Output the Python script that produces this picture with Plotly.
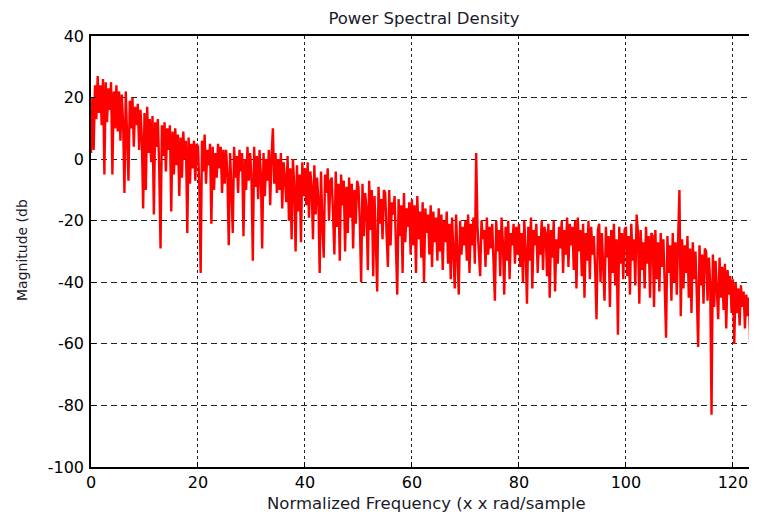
import numpy as np
import plotly.graph_objects as go

# PSD magnitude (dB), one value every 0.25 normalized-frequency units
seg_00 = [2, 20, 3, 24, 13, 27, 15, 24, 11, 26, -5, 25, 12, 23, 16, 25, -5, 22, 10, 24]
seg_05 = [9, 22, 6, 21, 12, -11, 22, 8, -7, 19, 10, 20, 4, 17, 11, 18, 3, 16, 7, -16]
seg_10 = [15, -10, 17, 2, 13, -1, 14, -18, 12, 4, 13, -3, -29, 11, 1, 12, -4, 10, 3, 11]
seg_15 = [-17, 9, -5, 10, -2, 8, -12, 7, -6, 9, 0, 6, -24, 7, -8, 5, -3, 6, -7, 5]
seg_20 = [4, -9, -37, 6, -4, 8, -8, 3, -2, 5, -21, 4, -10, 2, -6, 5, -3, 4, -11, 3]
seg_25 = [-8, 3, -5, -28, 2, -9, -24, 4, -6, 1, -11, 3, -4, 2, -25, 0, -10, 4, -7, 2]
seg_30 = [-6, -33, 4, -9, 1, -13, 3, -5, -29, 2, -12, 0, -7, 3, -15, 1, 10, -8, 2, -11]
seg_35 = [0, -10, 2, -16, -1, -6, -14, 1, -20, -3, -26, 0, -9, -30, -2, -17, -5, -27, -1, -12]
seg_40 = [-3, -15, -1, -19, -4, -9, -26, -2, -18, -6, -13, -37, -4, -21, -32, -5, -11, -3, -20, -7]
seg_45 = [-6, -18, -31, -4, -22, -8, -33, -5, -15, -7, -30, -9, -24, -6, -19, -8, -29, -10, -21, -7]
seg_50 = [-9, -20, -40, -8, -25, -11, -16, -36, -7, -23, -10, -38, -12, -27, -43, -9, -21, -13, -26, -10]
seg_55 = [-11, -24, -35, -10, -28, -14, -18, -12, -30, -44, -13, -25, -15, -37, -11, -27, -16, -22, -14, -31]
seg_60 = [-13, -28, -15, -37, -12, -26, -17, -32, -14, -40, -16, -24, -18, -31, -15, -35, -17, -27, -19, -33]
seg_65 = [-16, -30, -18, -36, -20, -27, -17, -34, -21, -39, -19, -29, -42, -18, -35, -44, -20, -31, -22, -28]
seg_70 = [-20, -33, -18, -37, -21, -28, -19, -34, 2, -22, -30, -38, -20, -26, -23, -35, -19, -31, -22, -29]
seg_75 = [-21, -36, -46, -20, -30, -23, -38, -19, -27, -44, -22, -33, -20, -39, -24, -28, -21, -34, -22, -31]
seg_80 = [-21, -35, -24, -40, -20, -30, -47, -22, -33, -19, -42, -23, -28, -21, -37, -25, -31, -20, -36, -22]
seg_85 = [-24, -38, -21, -45, -23, -32, -20, -43, -26, -34, -22, -29, -20, -37, -23, -31, -19, -35, -21, -28]
seg_90 = [-22, -36, -20, -42, -19, -30, -23, -38, -21, -45, -24, -33, -20, -39, -22, -31, -25, -36, -52, -23]
seg_95 = [-21, -40, -24, -35, -46, -22, -32, -25, -48, -23, -37, -21, -41, -26, -57, -22, -34, -24, -39, -23]
seg_100 = [-22, -38, -25, -44, -21, -33, -26, -41, -18, -24, -47, -23, -36, -27, -42, -22, -34, -25, -45, -24]
seg_105 = [-25, -48, -23, -39, -27, -43, -24, -35, -26, -41, -58, -25, -37, -28, -46, -24, -40, -27, -44, -26]
seg_110 = [-10, -51, -26, -42, -28, -37, -25, -45, -29, -50, -27, -39, -30, -44, -61, -28, -41, -31, -47, -29]
seg_115 = [-30, -46, -32, -40, -83, -31, -48, -33, -43, -52, -32, -45, -35, -49, -34, -55, -36, -44, -38, -50]
seg_120 = [-39, -60, -40, -50, -42, -54, -41, -48, -43, -55, -44, -51, -45, -62, -46, -53, -47, -50, -48, -52]

psd_db = (seg_00 + seg_05 + seg_10 + seg_15 + seg_20 + seg_25 + seg_30 + seg_35 + seg_40
          + seg_45 + seg_50 + seg_55 + seg_60 + seg_65 + seg_70 + seg_75 + seg_80 + seg_85
          + seg_90 + seg_95 + seg_100 + seg_105 + seg_110 + seg_115 + seg_120)
freq_step = 0.25
freq = np.arange(len(psd_db)) * freq_step

x_ticks = [0, 20, 40, 60, 80, 100, 120]
y_ticks = [40, 20, 0, -20, -40, -60, -80, -100]
y_labels = [str(v) for v in y_ticks]  # plain hyphen minus like the original

font = "DejaVu Sans, Arial, sans-serif"

# the page body has an 8px margin, so the figure is shrunk by that much
W, H, PAD = 757, 514, 8
L, T = 91 - PAD, 36 - PAD
plot_w, plot_h = 666, 431

fig = go.Figure()
fig.add_trace(go.Scatter(x=freq, y=psd_db, mode="lines",
                         line=dict(color="#ff0000", width=2.4), hoverinfo="skip"))

fig.update_layout(
    width=W - PAD, height=H - PAD,
    margin=dict(l=L, r=0, t=T, b=H - PAD - T - plot_h),
    paper_bgcolor="white", plot_bgcolor="white",
    showlegend=False,
    title=dict(text="Power Spectral Density", x=0.5, xref="paper", xanchor="center",
               y=1 - (18 - PAD) / (H - PAD), yref="container", yanchor="middle",
               font=dict(family=font, size=16.5, color="#1a1a2a")),
    font=dict(family=font, size=16, color="black"),
)
fig.update_xaxes(range=[0, 124.5], tickvals=x_ticks, showline=True, linecolor="black",
                 linewidth=1.5, mirror=True, ticks="inside", ticklen=5, tickcolor="black",
                 showgrid=True, gridcolor="#222", gridwidth=1, griddash="3px,3px",
                 zeroline=False, tickfont=dict(size=16), automargin=False)
fig.update_yaxes(range=[-100, 40], tickvals=y_ticks, ticktext=y_labels, showline=True,
                 linecolor="black", linewidth=1.5, mirror=False, ticks="inside", ticklen=5,
                 tickcolor="black", showgrid=True, gridcolor="#222", gridwidth=1,
                 griddash="6px,4px", zeroline=False, tickfont=dict(size=16),
                 ticklabelstandoff=2, automargin=False)

fig.add_annotation(text="Normalized Frequency (x x rad/sample", xref="paper", yref="paper",
                   x=(427 - 91) / plot_w, y=-(503 - 467) / plot_h, xanchor="center",
                   yanchor="middle", showarrow=False,
                   font=dict(family=font, size=16.5, color="#1a1a2a"))
fig.add_annotation(text="Magnitude (db", xref="paper", yref="paper",
                   x=-(91 - 22) / plot_w, y=(467 - 250) / plot_h, xanchor="center",
                   yanchor="middle", textangle=-90, showarrow=False,
                   font=dict(family=font, size=14, color="#1a1a2a"))

fig.write_html("out.html")
